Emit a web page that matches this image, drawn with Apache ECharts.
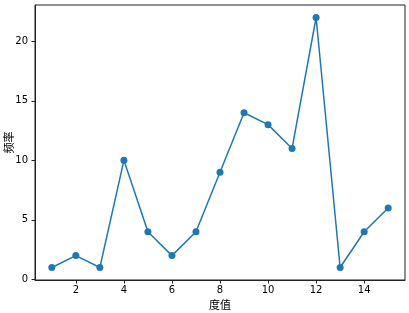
<!DOCTYPE html>
<html>
<head>
<meta charset="utf-8">
<script src="https://cdn.jsdelivr.net/npm/echarts@6/dist/echarts.min.js"></script>
<style>html,body{margin:0;padding:0;background:#fff;}#c{width:409px;height:313px;}</style>
</head>
<body>
<div id="c"></div>
<script>
const degrees = [1,2,3,4,5,6,7,8,9,10,11,12,13,14,15];
const freqs = [1,2,1,10,4,2,4,9,14,13,11,22,1,4,6];
const xTicks = [2,4,6,8,10,12,14];
const yTicks = [0,5,10,15,20];
const xLabel = '度值';
const yLabel = '频率';

const chart = echarts.init(document.getElementById('c'), null, {renderer:'canvas'});
const fontNum = 'DejaVu Sans, sans-serif';
const fontCJK = 'Noto Sans CJK SC, sans-serif';
chart.setOption({
  animation:false,
  backgroundColor:'#fff',
  grid:{left:35, right:4, top:5, bottom:33, containLabel:false, outerBoundsMode:'none', show:true, borderColor:'#222', borderWidth:1, backgroundColor:'transparent'},
  xAxis:{
    type:'value', min:0.3, max:15.7,
    name:xLabel, nameLocation:'middle', nameGap:19, nameMoveOverlap:false,
    nameTextStyle:{fontFamily:fontCJK, fontSize:11, color:'#000'},
    axisLine:{show:true, onZero:false, lineStyle:{color:'#222', width:1}},
    axisTick:{show:true, length:3.5, customValues:xTicks, lineStyle:{color:'#222'}},
    axisLabel:{customValues:xTicks, fontFamily:fontNum, fontSize:10, color:'#000', margin:5},
    splitLine:{show:false}
  },
  yAxis:{
    type:'value', min:-0.05, max:23.05,
    name:yLabel, nameLocation:'middle', nameGap:21, nameRotate:90, nameMoveOverlap:false,
    nameTextStyle:{fontFamily:fontCJK, fontSize:11, color:'#000'},
    axisLine:{show:true, onZero:false, lineStyle:{color:'#222', width:1}},
    axisTick:{show:true, length:3.5, customValues:yTicks, lineStyle:{color:'#222'}},
    axisLabel:{customValues:yTicks, fontFamily:fontNum, fontSize:10, color:'#000', margin:7},
    splitLine:{show:false}
  },
  series:[{
    type:'line',
    data:degrees.map((d,i)=>[d, freqs[i]]),
    color:'#1f77b4',
    lineStyle:{width:1.5, color:'#1f77b4'},
    symbol:'circle', symbolSize:7,
    itemStyle:{color:'#1f77b4'},
    showAllSymbol:true
  }]
});
</script>
</body>
</html>
